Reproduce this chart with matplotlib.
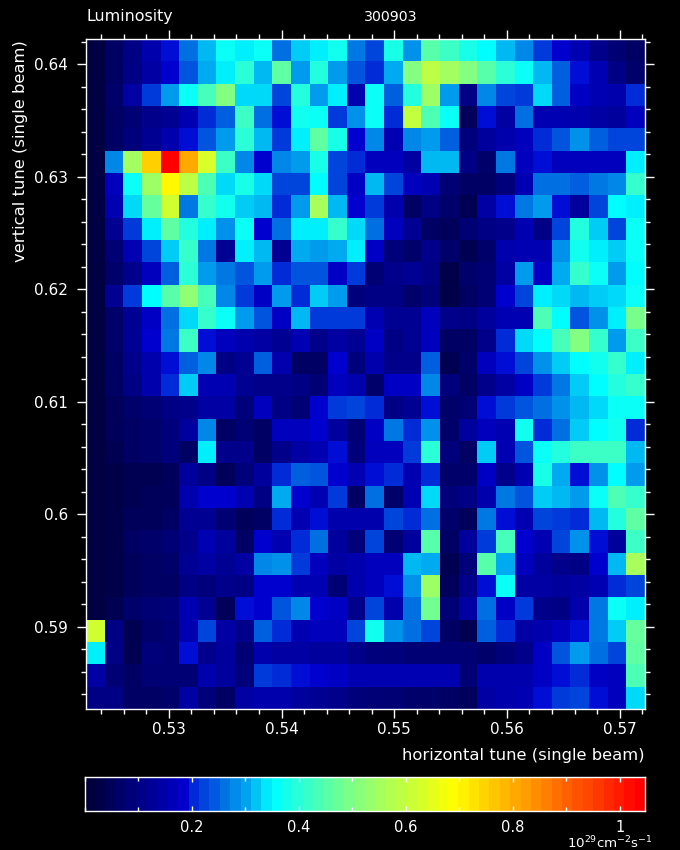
#!/usr/bin/env python3
"""Luminosity vs horizontal / vertical single beam tune, scan of 300903."""
import numpy as np
import matplotlib
matplotlib.use('Agg')
import matplotlib.pyplot as plt
from matplotlib.colors import LinearSegmentedColormap
from matplotlib.ticker import MultipleLocator, FixedLocator, FuncFormatter

# Luminosity per cell (10^29 cm-2 s-1), top row first
row_00 = [.01, .05, .09, .14, .19, .25, .31, .36, .34, .36, .25, .32, .34, .37, .26, .22, .38, .28, .45, .42, .38, .35, .31, .27, .21, .18, .15, .10, .07, .05]
row_01 = [.01, .05, .09, .13, .18, .23, .30, .34, .40, .31, .46, .29, .39, .29, .23, .20, .30, .50, .59, .55, .50, .45, .40, .36, .31, .24, .19, .15, .09, .06]
row_02 = [.01, .06, .13, .21, .29, .36, .43, .50, .33, .33, .22, .39, .29, .34, .14, .36, .24, .39, .54, .29, .09, .27, .22, .21, .33, .24, .17, .15, .14, .20]
row_03 = [.01, .05, .07, .10, .11, .15, .20, .24, .42, .25, .19, .37, .36, .21, .28, .36, .20, .60, .44, .36, .04, .19, .13, .25, .15, .15, .14, .13, .12, .16]
row_04 = [.01, .05, .08, .11, .14, .19, .23, .29, .40, .31, .21, .34, .46, .38, .18, .27, .15, .27, .29, .24, .08, .12, .14, .16, .20, .23, .28, .24, .22, .22]
row_05 = [.01, .27, .55, .76, 1.05, .81, .63, .42, .27, .18, .27, .29, .38, .22, .20, .16, .16, .13, .31, .31, .09, .06, .26, .16, .19, .16, .16, .16, .16, .34]
row_06 = [.01, .16, .36, .54, .70, .59, .44, .33, .38, .33, .22, .22, .35, .22, .17, .31, .22, .16, .15, .07, .05, .05, .08, .15, .25, .25, .24, .26, .27, .41]
row_07 = [.01, .15, .33, .47, .62, .26, .41, .37, .32, .31, .20, .29, .56, .31, .18, .21, .14, .05, .09, .06, .03, .13, .19, .26, .29, .19, .12, .22, .35, .34]
row_08 = [.01, .11, .21, .34, .46, .39, .34, .28, .36, .18, .25, .34, .34, .41, .33, .25, .16, .11, .05, .04, .07, .09, .10, .15, .09, .22, .39, .32, .22, .36]
row_09 = [.01, .07, .15, .22, .32, .41, .26, .11, .34, .31, .11, .30, .29, .30, .34, .17, .08, .06, .10, .06, .03, .06, .14, .15, .15, .28, .37, .34, .32, .36]
row_10 = [.01, .06, .10, .16, .24, .40, .29, .26, .23, .29, .20, .23, .23, .17, .21, .07, .10, .11, .09, .02, .06, .07, .13, .29, .17, .30, .41, .36, .29, .35]
row_11 = [.01, .11, .21, .35, .45, .52, .43, .27, .21, .17, .29, .20, .32, .29, .08, .09, .09, .06, .08, .02, .05, .07, .18, .22, .34, .33, .31, .32, .33, .36]
row_12 = [.01, .06, .11, .17, .25, .33, .41, .36, .29, .23, .17, .31, .21, .21, .21, .15, .11, .11, .16, .10, .09, .12, .15, .15, .44, .35, .23, .28, .34, .49]
row_13 = [.01, .06, .11, .18, .26, .42, .19, .16, .14, .13, .11, .15, .10, .13, .11, .17, .09, .11, .16, .05, .05, .10, .20, .33, .35, .43, .50, .41, .29, .42]
row_14 = [.01, .05, .10, .14, .19, .24, .27, .09, .11, .24, .14, .05, .05, .18, .08, .14, .10, .10, .24, .03, .06, .16, .19, .22, .28, .32, .35, .37, .41, .34]
row_15 = [.01, .05, .09, .14, .20, .32, .15, .15, .11, .10, .10, .09, .07, .16, .14, .06, .17, .17, .27, .08, .05, .10, .13, .17, .21, .26, .32, .35, .39, .41]
row_16 = [.01, .04, .06, .07, .09, .10, .13, .13, .08, .16, .09, .07, .18, .21, .22, .20, .09, .11, .19, .06, .07, .19, .21, .23, .25, .28, .31, .33, .36, .36]
row_17 = [.01, .04, .05, .06, .08, .12, .27, .05, .07, .05, .16, .16, .18, .12, .07, .17, .26, .20, .28, .06, .12, .16, .15, .37, .20, .25, .32, .35, .37, .20]
row_18 = [.01, .03, .05, .06, .08, .05, .34, .10, .10, .05, .10, .13, .15, .19, .08, .16, .16, .21, .40, .08, .05, .32, .15, .23, .36, .39, .42, .42, .42, .31]
row_19 = [.01, .02, .03, .03, .04, .12, .09, .04, .08, .12, .20, .24, .23, .18, .15, .19, .20, .15, .20, .06, .06, .17, .10, .15, .38, .30, .19, .28, .35, .29]
row_20 = [.01, .02, .03, .04, .04, .14, .18, .18, .15, .09, .30, .18, .15, .21, .05, .25, .06, .15, .33, .08, .09, .14, .26, .23, .32, .31, .29, .36, .44, .41]
row_21 = [.01, .02, .04, .04, .05, .11, .11, .07, .04, .05, .20, .15, .19, .14, .14, .14, .22, .20, .25, .06, .04, .26, .19, .15, .22, .21, .20, .31, .39, .46]
row_22 = [.01, .02, .05, .06, .07, .10, .15, .12, .05, .18, .15, .20, .25, .12, .08, .22, .07, .12, .45, .05, .12, .21, .43, .18, .15, .22, .28, .19, .12, .42]
row_23 = [.01, .02, .04, .05, .06, .11, .13, .11, .13, .27, .28, .21, .16, .13, .14, .16, .16, .31, .30, .03, .08, .45, .30, .16, .12, .10, .09, .18, .31, .56]
row_24 = [.01, .02, .04, .05, .05, .09, .08, .10, .09, .18, .18, .15, .15, .07, .14, .16, .19, .28, .54, .04, .10, .19, .36, .13, .13, .12, .13, .15, .20, .22]
row_25 = [.01, .03, .06, .07, .08, .15, .11, .04, .19, .18, .23, .27, .18, .17, .10, .22, .14, .25, .48, .07, .13, .25, .17, .21, .10, .09, .14, .26, .36, .34]
row_26 = [.62, .09, .03, .06, .07, .15, .22, .13, .10, .24, .20, .15, .16, .16, .22, .37, .28, .25, .22, .05, .03, .24, .20, .13, .14, .16, .19, .26, .32, .47]
row_27 = [.34, .09, .03, .08, .07, .19, .10, .12, .07, .14, .13, .13, .12, .12, .10, .08, .08, .07, .07, .07, .07, .06, .08, .10, .17, .23, .29, .25, .22, .46]
row_28 = [.13, .07, .05, .07, .07, .07, .14, .12, .08, .21, .20, .19, .18, .17, .15, .15, .15, .15, .15, .15, .07, .14, .14, .14, .17, .19, .20, .17, .16, .44]
row_29 = [.09, .09, .05, .05, .06, .13, .08, .05, .13, .14, .14, .12, .11, .10, .08, .07, .07, .06, .06, .05, .04, .13, .14, .15, .19, .21, .22, .19, .16, .33]

rows = [row_00, row_01, row_02, row_03, row_04, row_05, row_06, row_07, row_08, row_09,
        row_10, row_11, row_12, row_13, row_14, row_15, row_16, row_17, row_18, row_19,
        row_20, row_21, row_22, row_23, row_24, row_25, row_26, row_27, row_28, row_29]

# axis ranges
x_range = (0.52265, 0.57225)
y_range = (0.58270, 0.64225)
z_range = (0.0, 1.047)

cb_ticks = [0.2, 0.4, 0.6, 0.8, 1.0]
cb_labels = ['0.2', '0.4', '0.6', '0.8', '1']
cb_bands = 54

W, H = 680, 850
FONT = 'DejaVu Sans'

# jet like palette with a dark blue start and a step after 0.19
stops = [(0.0, (0, 0, 60)), (0.186, (0, 0, 210)), (0.195, (0, 40, 215)), (0.25, (0, 110, 225)),
         (0.30, (0, 170, 240)), (0.35, (0, 255, 255)), (0.50, (130, 255, 130)),
         (0.693, (255, 255, 0)), (1.047, (255, 0, 0))]
cmap = LinearSegmentedColormap.from_list(
    'lumi', [(v / z_range[1], tuple(c / 255 for c in rgb)) for v, rgb in stops], N=256)


def px_axes(fig, left, top, right, bottom):
    """Axes placed by picture pixels, y counted from the top."""
    return fig.add_axes([left / W, 1 - bottom / H, (right - left) / W, (bottom - top) / H])


def white_frame(ax):
    for sp in ax.spines.values():
        sp.set_color('white')
        sp.set_linewidth(1.0)
    ax.set_facecolor('black')


fig = plt.figure(figsize=(W / 100, H / 100), dpi=100, facecolor='black')

# main map
ax = px_axes(fig, 86, 39, 645, 709)
x_edges = np.linspace(x_range[0], x_range[1], len(rows[0]) + 1)
y_edges = np.linspace(y_range[1], y_range[0], len(rows) + 1)
ax.pcolormesh(x_edges, y_edges, np.array(rows), cmap=cmap, vmin=z_range[0], vmax=z_range[1],
              shading='flat', rasterized=True)
ax.set_xlim(*x_range)
ax.set_ylim(*y_range)
white_frame(ax)

fmt = FuncFormatter(lambda v, _: f'{v:.2f}'.rstrip('0') if abs(v - 0.6) < 1e-6 else f'{v:.2f}')
ax.xaxis.set_major_locator(MultipleLocator(0.01))
ax.xaxis.set_minor_locator(MultipleLocator(0.002))
ax.yaxis.set_major_locator(MultipleLocator(0.01))
ax.yaxis.set_minor_locator(MultipleLocator(0.002))
ax.xaxis.set_major_formatter(fmt)
ax.yaxis.set_major_formatter(fmt)
ax.tick_params(which='both', direction='out', color='white', labelcolor='white', width=1.0,
               top=True, right=True, labelsize=11)
ax.tick_params(which='major', length=6.2)
ax.tick_params(axis='x', which='major', pad=3.5)
ax.tick_params(axis='y', which='major', pad=6.5)
ax.tick_params(which='minor', length=3.4)
for lbl in ax.get_xticklabels() + ax.get_yticklabels():
    lbl.set_family(FONT)

fig.text(86.5 / W, 1 - 17 / H, 'Luminosity', color='white', fontsize=11.4, family=FONT, ha='left', va='center')
fig.text(391 / W, 1 - 17 / H, '300903', color='white', fontsize=10.2, family=FONT, ha='center', va='center')
fig.text(645 / W, 1 - 755.5 / H, 'horizontal tune (single beam)', color='white', fontsize=11.8, family=FONT,
         ha='right', va='center')
fig.text(21 / W, 1 - 40 / H, 'vertical tune (single beam)', color='white', fontsize=11.8, family=FONT,
         rotation=90, ha='center', va='top')

# colour scale, drawn in bands as the original device did
cax = px_axes(fig, 85, 777, 645, 811)
cax.imshow(np.linspace(z_range[0], z_range[1], cb_bands)[None, :], cmap=cmap, aspect='auto',
           vmin=z_range[0], vmax=z_range[1], extent=[z_range[0], z_range[1], 0, 1],
           interpolation='nearest')
white_frame(cax)
cax.set_yticks([])
cax.xaxis.set_major_locator(FixedLocator(cb_ticks))
cax.xaxis.set_minor_locator(MultipleLocator(0.1))
cax.set_xticklabels(cb_labels, family=FONT)
cax.tick_params(which='both', direction='in', color='white', labelcolor='white', width=1.0,
                top=True, bottom=True, labelsize=10.5)
cax.tick_params(which='major', length=3.8, pad=6.5)
cax.tick_params(which='minor', length=2.6)

fig.text(653 / W, 1 - 848.5 / H, r'$\mathregular{10^{29}cm^{-2}s^{-1}}$', color='white', fontsize=9.6,
         family=FONT, ha='right', va='baseline')

fig.savefig('out.png', dpi=100, facecolor='black')
plt.close(fig)
